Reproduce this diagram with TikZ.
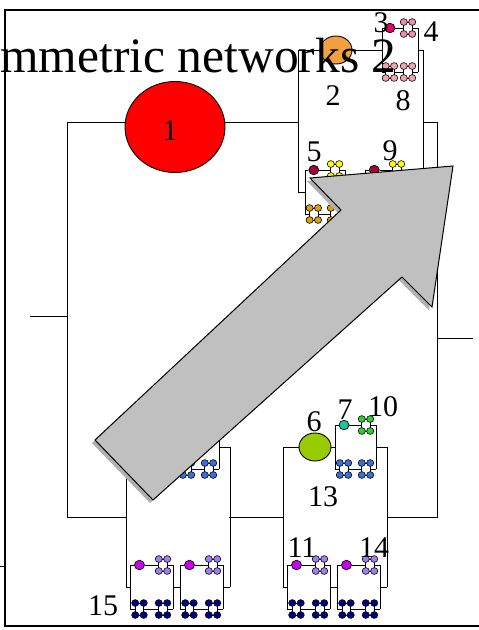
\documentclass[tikz,border=0pt]{standalone}
\usepackage{fontspec}
\setmainfont{Liberation Serif}
\usetikzlibrary{shapes.geometric}
\definecolor{cRed}{HTML}{FF0000}
\definecolor{cOrange}{HTML}{F4A040}
\definecolor{cGreen}{HTML}{99CC00}
\definecolor{cTeal}{HTML}{1FC29E}
\definecolor{cGreenB}{HTML}{33CC33}
\definecolor{cBlue}{HTML}{3A6FD6}
\definecolor{cMag}{HTML}{CC00F0}
\definecolor{cLav}{HTML}{9F7FEF}
\definecolor{cNavy}{HTML}{000080}
\definecolor{cPink}{HTML}{E6006E}
\definecolor{cPinkA}{HTML}{F08CAC}
\definecolor{cPinkB}{HTML}{F4A4B0}
\definecolor{cCrim}{HTML}{A0063C}
\definecolor{cYellow}{HTML}{FFFF00}
\definecolor{cGold}{HTML}{D8A200}
\definecolor{cArrow}{HTML}{C0C0C0}
\definecolor{cShadow}{HTML}{B0B0B0}
\tikzset{
  ln/.style={line width=0.9pt},
  framel/.style={line width=1.3pt},
  dotst/.style={line width=0.6pt},
  smell/.style={ellipse,draw,line width=0.7pt,minimum width=10pt,minimum height=9.5pt,inner sep=0pt},
  bigell/.style={ellipse,draw,line width=0.9pt,minimum width=32pt,minimum height=28pt,inner sep=0pt},
  lab/.style={inner sep=0pt,font=\fontsize{30}{30}\selectfont},
}
% tiny cluster: centre x, centre y, colour
\newcommand\tcl[3]{%
  \draw[ln] ({#1-4.2},{#2-6}) rectangle ({#1+4.2},{#2+6});
  \foreach \dx in {-4.2,4.2}{\foreach \dy in {-6,6}{%
    \draw[dotst,fill=#3] ({#1+\dx},{#2+\dy}) ellipse (3.6pt and 3.4pt);}}%
}
% mid block: name, x0, ymid, width, ellipse colour, top cluster colour, bottom cluster colour
\newcommand\midb[7]{%
  \pgfmathsetmacro\mxa{#2}\pgfmathsetmacro\mya{#3-22}\pgfmathsetmacro\myb{#3+22}%
  \pgfmathsetmacro\mxe{#2+0.22*#4}\pgfmathsetmacro\mxr{#2+#4}\pgfmathsetmacro\mxc{#2+#4-10}%
  \draw[ln] (\mxa,\mya) -- (\mxa,\myb) (\mxr,\mya) -- (\mxr,\myb);
  \node[smell,fill=#5] (#1) at (\mxe,\mya) {};
  \draw[ln] (\mxa,\mya) -- (#1.west) (#1.east) -- ({\mxc-4.2},\mya) ({\mxc+4.2},\mya) -- (\mxr,\mya);
  \draw[ln] (\mxa,\myb) -- ({\mxe-4.2},\myb) ({\mxe+4.2},\myb) -- ({\mxc-4.2},\myb) ({\mxc+4.2},\myb) -- (\mxr,\myb);
  \tcl{\mxc}{\mya}{#6}\tcl{\mxe}{\myb}{#7}\tcl{\mxc}{\myb}{#7}%
}
% big block: name, x0, ymid
\newcommand\bigb[3]{%
  \pgfmathsetmacro\bxa{#2}\pgfmathsetmacro\bya{#3-70}\pgfmathsetmacro\byb{#3+70}\pgfmathsetmacro\bxr{#2+104}%
  \draw[ln] (\bxa,\bya) -- (\bxa,\byb) (\bxr,\bya) -- (\bxr,\byb);
  \node[bigell,fill=cGreen] (#1-e) at ({#2+32},\bya) {};
  \draw[ln] (\bxa,\bya) -- (#1-e.west) (#1-e.east) -- ({#2+52},\bya) ({#2+93},\bya) -- (\bxr,\bya);
  \draw[ln] (\bxa,\byb) -- ({#2+4},\byb) ({#2+47},\byb) -- ({#2+54},\byb) ({#2+97},\byb) -- (\bxr,\byb);
  \midb{#1-a}{#2+52}{\bya}{41}{cTeal}{cGreenB}{cBlue}%
  \midb{#1-b}{#2+4}{\byb}{43}{cMag}{cLav}{cNavy}%
  \midb{#1-c}{#2+54}{\byb}{43}{cMag}{cLav}{cNavy}%
}
\begin{document}
\begin{tikzpicture}[x=1pt,y=-1pt]
\useasboundingbox (0,0) rectangle (479,630);
\clip (0,0) rectangle (479,630);
% frame
\draw[framel] (485,10) -- (5,10) -- (5,626) -- (485,626);
\draw[ln] (0,566) -- (5,566);
% top level
\coordinate (tl) at (30,316);
\coordinate (tr) at (473,338);
\draw[ln] (tl) -- (67,316);
\draw[ln] (67,122) -- (67,517) -- (126,517);
\draw[ln] (67,122) -- (298,122);
\draw[ln] (423,122) -- (437,122) -- (437,517) -- (387,517);
\draw[ln] (229,517) -- (283,517);
\draw[ln] (437,338) -- (tr);
\node[ellipse,draw,line width=0.9pt,fill=cRed,minimum width=100pt,minimum height=91pt,inner sep=0pt] (e1) at (175,127) {};
% block 2
\draw[ln] (298,50) -- (298,192) (423,50) -- (423,192);
\draw[ln] (298,192) -- (305,192) (345,192) -- (365,192) (407,192) -- (423,192);
\node[bigell,fill=cOrange] (e2) at (336,50) {};
\draw[ln] (298,50) -- (e2.west) (e2.east) -- (382,50) (418,50) -- (423,50);
\midb{m34}{382}{50}{36}{cPink}{cPinkA}{cPinkB}
\midb{m5}{305}{192}{40}{cCrim}{cYellow}{cGold}
\midb{m9}{365}{192}{42}{cCrim}{cYellow}{cGold}
% bottom blocks
\bigb{b15}{126}{517}
\bigb{b13}{283}{517}
% labels
\node[lab] (l1) at (170,131) {1};
\node[lab] (l2) at (333,96) {2};
\node[lab] (l3) at (381,23) {3};
\node[lab] (l4) at (431,32) {4};
\node[lab] (l8) at (403,101) {8};
\node[lab] (l5) at (314,152) {5};
\node[lab] (l9) at (390,151) {9};
\node[lab] (l6) at (314,422) {6};
\node[lab] (l7) at (345,410) {7};
\node[lab] (l10) at (383,407) {10};
\node[lab] (l13) at (323,497) {13};
\node[lab] (l11) at (302,548) {11};
\node[lab] (l14) at (374,548) {14};
\node[lab] (l15) at (103,606) {15};
% arrow
\fill[cShadow,shift={(-3,3)}] (95,440) -- (341,210) -- (310,178) -- (453,166) -- (432,307) -- (402,277) -- (153,500) -- cycle;
\draw[line width=1pt,fill=cArrow] (95,440) -- (341,210) -- (310,178) -- (453,166) -- (432,307) -- (402,277) -- (153,500) -- cycle;
% title
\node[anchor=base west,inner sep=0pt,font=\fontsize{49.5}{49.5}\selectfont] (title) at (-52,72) {Symmetric networks 2};
\end{tikzpicture}
\end{document}
